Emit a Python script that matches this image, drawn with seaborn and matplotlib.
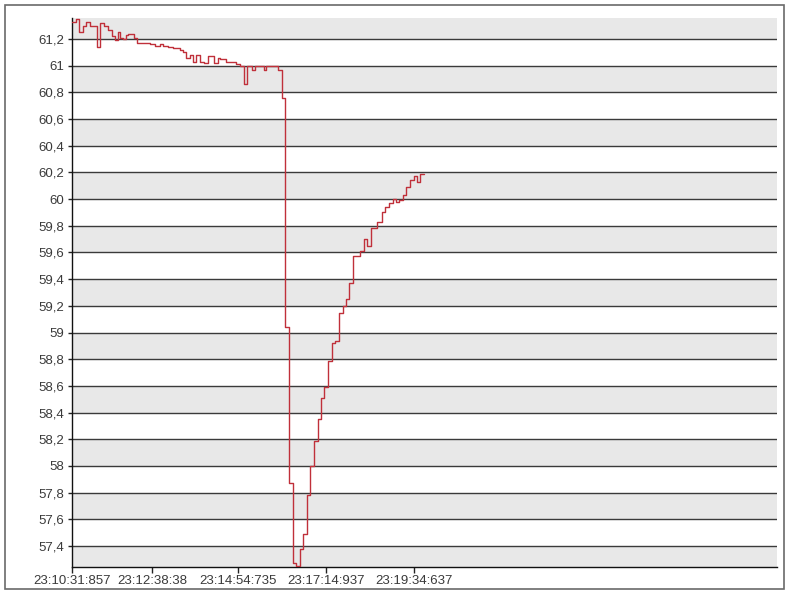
import matplotlib
matplotlib.use("Agg")
import matplotlib.pyplot as plt
from matplotlib.patches import Rectangle
import seaborn as sns
import numpy as np
import pandas as pd

# seconds since 23:10:31.857 and frequency readings (step values)
seconds = [0.0, 5.9, 10.6, 17.0, 21.7, 28.1, 39.2, 44.0, 50.3, 56.7,
           63.0, 67.8, 72.5, 75.7, 80.5, 85.2, 88.4, 97.9, 102.7, 123.3,
           131.2, 139.2, 143.9, 151.9, 159.8, 170.9, 175.7, 180.4, 186.8, 191.6,
           196.3, 202.7, 209.0, 215.4, 224.9, 231.2, 234.4, 243.9, 250.3, 259.8,
           266.1, 272.5, 277.3, 285.2, 290.0, 304.2, 307.4, 326.4, 332.3, 337.6,
           344.4, 349.5, 355.0, 361.4, 366.6, 371.7, 377.7, 383.9, 389.1, 394.7,
           399.9, 406.3, 411.7, 416.9, 423.7, 429.1, 434.4, 439.6, 446.0, 456.6,
           462.9, 467.2, 473.6, 484.0, 491.0, 496.3, 503.1, 509.4, 513.7, 519.0,
           525.3, 529.6, 535.9, 542.3, 547.5, 551.8, 558.1]
freq = [61.33, 61.35, 61.25, 61.30, 61.33, 61.30, 61.14, 61.32, 61.30, 61.27,
        61.22, 61.19, 61.25, 61.21, 61.20, 61.23, 61.24, 61.21, 61.17, 61.16,
        61.15, 61.16, 61.15, 61.14, 61.13, 61.12, 61.10, 61.06, 61.08, 61.03,
        61.08, 61.03, 61.02, 61.07, 61.02, 61.06, 61.05, 61.03, 61.03, 61.01,
        61.00, 60.86, 61.00, 60.97, 61.00, 60.97, 61.00, 60.97, 60.76, 59.04,
        57.87, 57.27, 57.25, 57.38, 57.49, 57.78, 58.00, 58.19, 58.35, 58.51,
        58.59, 58.79, 58.92, 58.94, 59.15, 59.20, 59.25, 59.37, 59.57, 59.61,
        59.70, 59.65, 59.78, 59.83, 59.90, 59.94, 59.97, 60.00, 59.98, 59.99,
        60.03, 60.09, 60.14, 60.17, 60.13, 60.19, 60.19]

tick_seconds = [0.0, 126.52, 262.878, 403.08, 542.78]
tick_labels = ["23:10:31:857", "23:12:38:38", "23:14:54:735", "23:17:14:937", "23:19:34:637"]
y_ticks = [57.4, 57.6, 57.8, 58.0, 58.2, 58.4, 58.6, 58.8, 59.0, 59.2,
           59.4, 59.6, 59.8, 60.0, 60.2, 60.4, 60.6, 60.8, 61.0, 61.2]

df = pd.DataFrame({"t": seconds, "f": freq})

sns.set_style("white")
plt.rcParams["font.family"] = ["Liberation Sans", "DejaVu Sans"]

fig = plt.figure(figsize=(8, 6.04), dpi=100)
ax = fig.add_axes([72.3 / 800, 1 - 567 / 604, (777 - 72.3) / 800, (567 - 18) / 604])

ymin, ymax = 57.243, 61.357
# alternating gray bands
for lo in np.arange(57.2, 61.3, 0.4):
    ax.axhspan(lo, lo + 0.2, color="#e8e8e8", lw=0, zorder=0)
for y in y_ticks:
    ax.axhline(y, color="#3a3a3a", lw=1, zorder=1)

sns.lineplot(data=df, x="t", y="f", ax=ax, drawstyle="steps-post",
             color="#c0303a", lw=1, estimator=None, zorder=3)

ax.set_ylim(ymin, ymax)
ax.set_xlim(0, 1118)
ax.set_yticks(y_ticks)
ax.set_yticklabels([f"{v:g}".replace(".", ",") for v in y_ticks])
ax.set_xticks(tick_seconds)
ax.set_xticklabels(tick_labels)
ax.set_xlabel("")
ax.set_ylabel("")
ax.tick_params(axis="y", length=3, width=1, pad=3, labelsize=9.5, colors="#3a3a3a", left=True)
ax.tick_params(axis="x", length=4, width=1, pad=2, labelsize=9.5, colors="#3a3a3a", bottom=True)
ax.tick_params(axis="both", color="#222222")

for s in ["top", "right"]:
    ax.spines[s].set_visible(False)
for s in ["left", "bottom"]:
    ax.spines[s].set_color("#111111")
    ax.spines[s].set_linewidth(1)

fig.patches.append(Rectangle((5 / 800, 1 - 589 / 604), 779 / 800, 584 / 604,
                             transform=fig.transFigure, fill=False,
                             ec="#6a6a6a", lw=1.2))

fig.savefig("out.png", dpi=100)
